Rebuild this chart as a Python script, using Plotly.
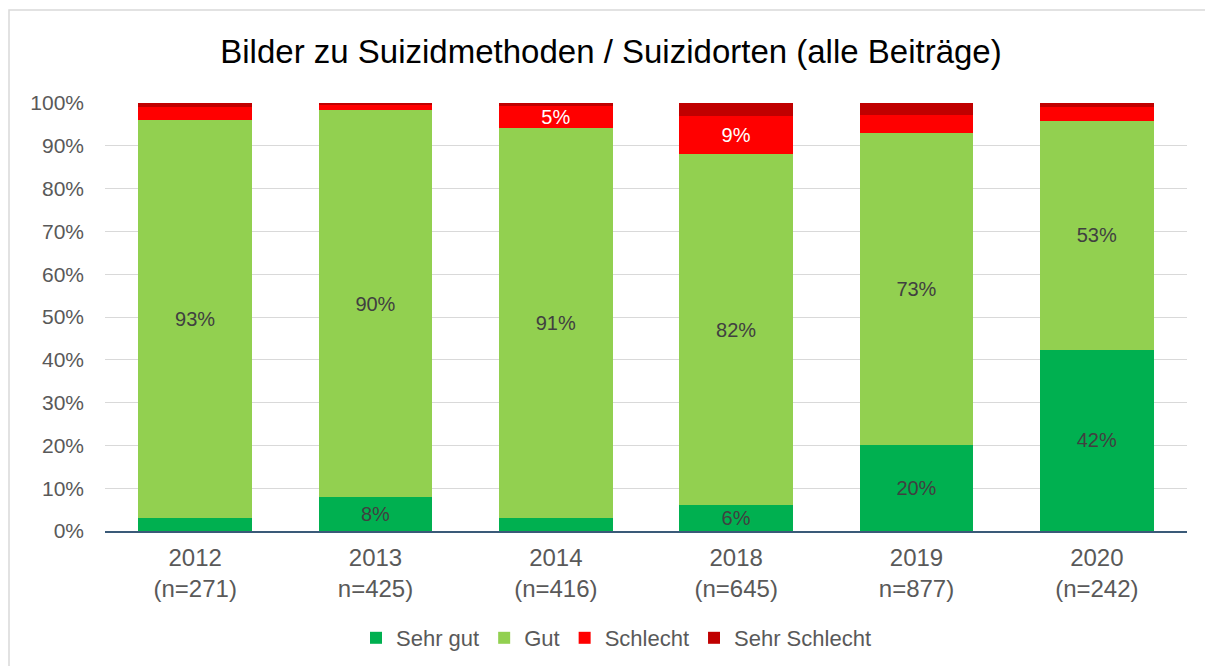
import plotly.graph_objects as go

categories = ["2012<br>(n=271)", "2013<br>n=425)", "2014<br>(n=416)",
              "2018<br>(n=645)", "2019<br>n=877)", "2020<br>(n=242)"]
sehr_gut = [3.0, 8.0, 3.0, 6.0, 20.0, 42.4]
gut = [93.0, 90.3, 91.2, 82.0, 73.0, 53.4]
schlecht = [3.0, 1.2, 5.2, 9.0, 4.1, 3.2]
sehr_schlecht = [1.0, 0.5, 0.6, 3.0, 2.9, 1.0]

sehr_gut_labels = ["", "8%", "", "6%", "20%", "42%"]
gut_labels = ["93%", "90%", "91%", "82%", "73%", "53%"]
schlecht_labels = ["", "", "5%", "9%", "", ""]
sehr_schlecht_labels = ["", "", "", "", "", ""]

FONT = "Liberation Sans"
series = [
    ("Sehr gut", sehr_gut, sehr_gut_labels, "#00B050", "#404040"),
    ("Gut", gut, gut_labels, "#92D050", "#404040"),
    ("Schlecht", schlecht, schlecht_labels, "#FF0000", "#FFFFFF"),
    ("Sehr Schlecht", sehr_schlecht, sehr_schlecht_labels, "#C00000", "#FFFFFF"),
]

fig = go.Figure()
for name, vals, labels, color, tcolor in series:
    fig.add_trace(go.Bar(
        name=name, x=categories, y=vals, text=labels,
        texttemplate="%{text}", textposition="inside",
        insidetextanchor="middle", textangle=0, constraintext="none",
        textfont=dict(family=FONT, size=20, color=tcolor),
        marker=dict(color=color, line=dict(width=0)),
        hoverinfo="skip",
    ))

# page has an 8px body margin: figure origin is at page (8, 8)
OFF = 8
fig.update_layout(
    barmode="stack",
    bargap=0.368,
    width=1213, height=666,
    margin=dict(l=105 - OFF, r=1213 - (1187 - OFF), t=103 - OFF, b=666 - (531 - OFF)),
    paper_bgcolor="white", plot_bgcolor="white",
    title=dict(text="Bilder zu Suizidmethoden / Suizidorten (alle Beiträge)",
               x=(611 - OFF) / 1213, xanchor="center", y=1 - (51 - OFF) / 666, yanchor="middle",
               font=dict(family=FONT, size=33, color="#000000")),
    uniformtext=dict(mode=False),
    legend=dict(orientation="h", x=(616 - 105) / 1082, xanchor="center",
                y=(531 - 638) / 428, yanchor="middle",
                font=dict(family=FONT, size=22, color="#595959"),
                traceorder="normal", itemwidth=30),
    showlegend=True,
)
fig.update_yaxes(range=[0, 100], dtick=10, ticksuffix="%",
                 showgrid=True, gridcolor="#D9D9D9", gridwidth=1,
                 zeroline=False, showline=False,
                 tickfont=dict(family=FONT, size=21, color="#595959"),
                 ticks="", ticklen=0, ticklabelstandoff=20)
fig.update_xaxes(showline=True, linecolor="#3A5A78", linewidth=2,
                 tickfont=dict(family=FONT, size=24, color="#595959"),
                 ticks="", showgrid=False, ticklabelstandoff=4)

# outer chart border
fig.add_shape(type="rect", xref="paper", yref="paper",
              x0=(9 - 105) / 1082, x1=(1210 - 105) / 1082,
              y0=(531 - 672) / 428, y1=(531 - 10) / 428,
              line=dict(color="#D9D9D9", width=1.5), fillcolor="rgba(0,0,0,0)",
              layer="below")

fig.write_html("out.html")
